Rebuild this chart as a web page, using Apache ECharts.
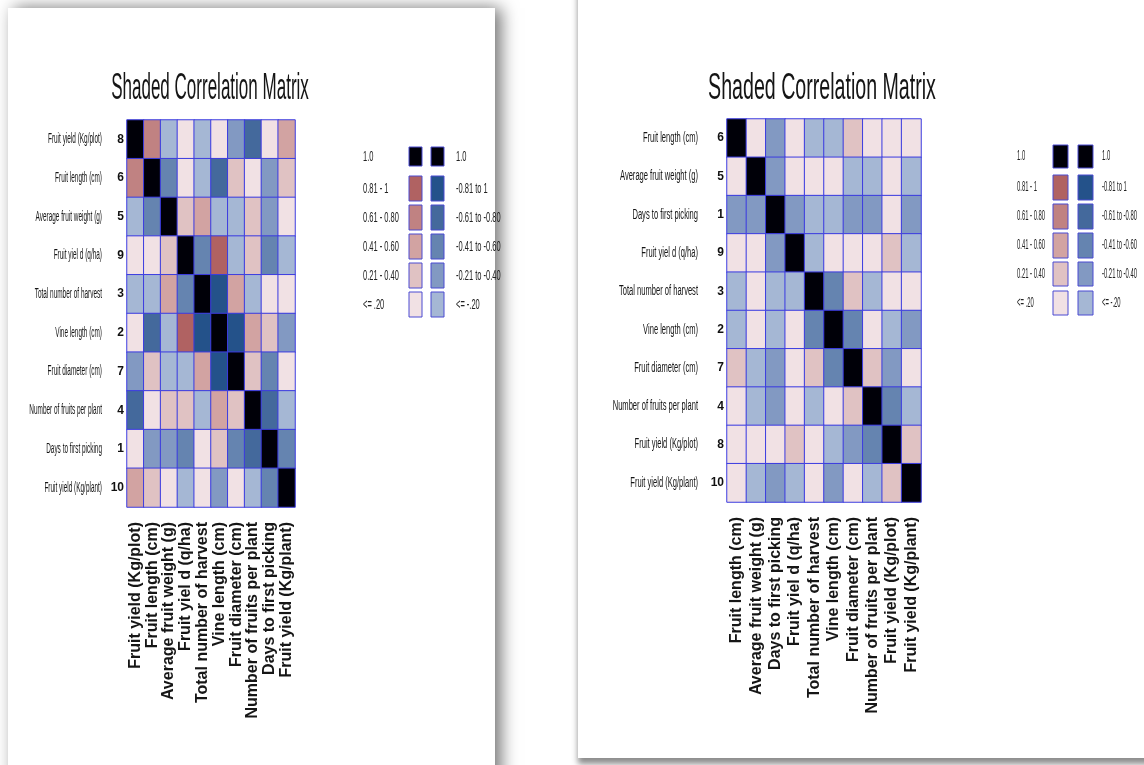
<!DOCTYPE html>
<html>
<head>
<meta charset="utf-8">
<script src="https://cdn.jsdelivr.net/npm/echarts@6/dist/echarts.min.js"></script>
<style>
  html, body { margin: 0; padding: 0; background: #ffffff; overflow: hidden; }
  #wrap { position: relative; width: 1144px; height: 765px; overflow: hidden; background: #ffffff; }
  .card { position: absolute; background: #ffffff; }
  #cardL { left: 8px; top: 8px; width: 487px; height: 820px; box-shadow: 6px 0px 16px rgba(0,0,0,0.55); }
  #cardR { left: 578px; top: -20px; width: 620px; height: 778px; box-shadow: 0px 6px 6px rgba(0,0,0,0.45); }
  #chart { position: absolute; left: 0; top: 0; width: 1144px; height: 765px; }
</style>
</head>
<body>
<div id="wrap">
  <div class="card" id="cardL"></div>
  <div class="card" id="cardR"></div>
  <div id="chart"></div>
</div>
<script>
// ---------------- DATA ----------------
const titleText = 'Shaded Correlation Matrix';

const leftNames = ['Fruit yield (Kg/plot)', 'Fruit length (cm)', 'Average fruit weight (g)', 'Fruit yiel d (q/ha)',
  'Total number of harvest', 'Vine length (cm)', 'Fruit diameter (cm)', 'Number of fruits per plant',
  'Days to first picking', 'Fruit yield (Kg/plant)'];
const leftNums = ['8', '6', '5', '9', '3', '2', '7', '4', '1', '10'];
const leftMatrix = [
  [1.00, 0.72, -0.15, 0.12, -0.14, 0.10, -0.33, -0.71, 0.11, 0.52],
  [0.72, 1.00, -0.52, 0.13, -0.16, -0.68, 0.31, 0.12, -0.35, 0.29],
  [-0.15, -0.52, 1.00, 0.33, 0.48, -0.17, -0.18, 0.32, -0.34, 0.14],
  [0.12, 0.13, 0.33, 1.00, -0.51, 0.86, -0.15, 0.31, -0.49, -0.13],
  [-0.14, -0.16, 0.48, -0.51, 1.00, -0.87, 0.46, -0.12, 0.10, 0.11],
  [0.10, -0.68, -0.17, 0.86, -0.87, 1.00, -0.85, 0.45, 0.30, -0.36],
  [-0.33, 0.31, -0.18, -0.15, 0.46, -0.85, 1.00, 0.28, -0.53, 0.09],
  [-0.71, 0.12, 0.32, 0.31, -0.12, 0.45, 0.28, 1.00, -0.66, -0.16],
  [0.11, -0.35, -0.34, -0.49, 0.10, 0.30, -0.53, -0.66, 1.00, -0.55],
  [0.52, 0.29, 0.14, -0.13, 0.11, -0.36, 0.09, -0.16, -0.55, 1.00]
];

const rightNames = ['Fruit length (cm)', 'Average fruit weight (g)', 'Days to first picking', 'Fruit yiel d (q/ha)',
  'Total number of harvest', 'Vine length (cm)', 'Fruit diameter (cm)', 'Number of fruits per plant',
  'Fruit yield (Kg/plot)', 'Fruit yield (Kg/plant)'];
const rightNums = ['6', '5', '1', '9', '3', '2', '7', '4', '8', '10'];
const rightMatrix = [
  [1.00, 0.12, -0.33, 0.10, -0.15, -0.14, 0.27, 0.11, 0.13, 0.10],
  [0.12, 1.00, -0.31, 0.11, 0.09, 0.12, -0.16, -0.13, 0.10, -0.17],
  [-0.33, -0.31, 1.00, -0.30, -0.17, -0.15, -0.32, -0.34, 0.11, -0.35],
  [0.10, 0.11, -0.30, 1.00, -0.14, 0.12, 0.13, 0.09, 0.28, -0.16],
  [-0.15, 0.09, -0.17, -0.14, 1.00, -0.47, 0.29, -0.15, 0.12, 0.10],
  [-0.14, 0.12, -0.15, 0.12, -0.47, 1.00, -0.45, 0.11, -0.18, -0.32],
  [0.27, -0.16, -0.32, 0.13, 0.29, -0.45, 1.00, 0.30, -0.33, 0.12],
  [0.11, -0.13, -0.34, 0.09, -0.15, 0.11, 0.30, 1.00, -0.46, -0.14],
  [0.13, 0.10, 0.11, 0.28, 0.12, -0.18, -0.33, -0.46, 1.00, 0.31],
  [0.10, -0.17, -0.35, -0.16, 0.10, -0.32, 0.12, -0.14, 0.31, 1.00]
];

// legend (top to bottom)
const posLegendLabels = ['1.0', '0.81 - 1', '0.61 - 0.80', '0.41 - 0.60', '0.21 - 0.40', '<= .20'];
const negLegendLabels = ['1.0', '-0.81 to 1', '-0.61 to -0.80', '-0.41 to -0.60', '-0.21 to -0.40', '<= -.20'];
const posColors = ['#000008', '#b06262', '#c08282', '#d2a3a2', '#e0c2c3', '#f1e1e4'];
const negColors = ['#000008', '#24528a', '#44699c', '#6584b0', '#8299c2', '#a5b7d4'];

// ---------------- HELPERS ----------------
const FONT = "'Liberation Sans', Arial, sans-serif";
const NARROW = "'Liberation Sans Narrow', 'Liberation Sans', Arial, sans-serif";

function toHeat(m) {
  const out = [];
  for (let i = 0; i < m.length; i++)
    for (let j = 0; j < m[i].length; j++) out.push([j, i, m[i][j]]);
  return out;
}

function nameLabelSeries(idx, names, gap, sx, fs) {
  return {
    type: 'custom',
    xAxisIndex: idx, yAxisIndex: idx,
    silent: true, clip: false, z: 5,
    data: names.map((n, i) => [0, i]),
    renderItem: function (params, api) {
      const c = api.coord([0, api.value(1)]);
      const half = api.size([1, 0])[0] / 2;
      return {
        type: 'text',
        x: c[0] - half - gap,
        y: c[1],
        scaleX: sx,
        style: {
          text: names[params.dataIndex],
          align: 'right', textAlign: 'right',
          verticalAlign: 'middle', textVerticalAlign: 'middle',
          fontSize: fs, fontFamily: FONT, fill: '#151515'
        }
      };
    }
  };
}

function legendEls(cfg) {
  const els = [];
  for (let i = 0; i < posLegendLabels.length; i++) {
    const t = cfg.tops[i], h = cfg.heights[i];
    els.push({ type: 'rect', shape: { x: cfg.px, y: t, width: cfg.w, height: h },
      style: { fill: posColors[i], stroke: '#4a4ad2', lineWidth: 1 } });
    els.push({ type: 'rect', shape: { x: cfg.nx, y: t, width: cfg.w, height: h },
      style: { fill: negColors[i], stroke: '#4a4ad2', lineWidth: 1 } });
    els.push({ type: 'text', x: cfg.ptx, y: t + h / 2, scaleX: cfg.sx,
      style: { text: posLegendLabels[i], align: 'left', textAlign: 'left', verticalAlign: 'middle', textVerticalAlign: 'middle',
        fontSize: cfg.fs, fontFamily: FONT, fill: '#222' } });
    els.push({ type: 'text', x: cfg.ntx, y: t + h / 2, scaleX: cfg.sx,
      style: { text: negLegendLabels[i], align: 'left', textAlign: 'left', verticalAlign: 'middle', textVerticalAlign: 'middle',
        fontSize: cfg.fs, fontFamily: FONT, fill: '#222' } });
  }
  return els;
}

function axisPair(idx, names, nums, labelSize) {
  return {
    x: {
      type: 'category', gridIndex: idx, data: names, position: 'bottom',
      axisLine: { show: false }, axisTick: { show: false }, splitLine: { show: false },
      axisLabel: { interval: 0, rotate: 90, margin: 15, fontSize: labelSize, fontWeight: 'bold', fontFamily: FONT, color: '#161616' }
    },
    y: {
      type: 'category', gridIndex: idx, data: names, inverse: true,
      axisLine: { show: false }, axisTick: { show: false }, splitLine: { show: false },
      axisLabel: { interval: 0, margin: 3, fontSize: 12, fontWeight: 'bold', fontFamily: NARROW, color: '#111',
        formatter: function (v, i) { return nums[i]; } }
    }
  };
}

// ---------------- CHART ----------------
const chart = echarts.init(document.getElementById('chart'), null, { renderer: 'canvas' });
const aL = axisPair(0, leftNames, leftNums, 16);
const aR = axisPair(1, rightNames, rightNums, 16);

const pieces = [
  { value: 1, color: posColors[0] },
  { gt: 0.8, lt: 1, color: posColors[1] },
  { gt: 0.6, lte: 0.8, color: posColors[2] },
  { gt: 0.4, lte: 0.6, color: posColors[3] },
  { gt: 0.2, lte: 0.4, color: posColors[4] },
  { gte: 0, lte: 0.2, color: posColors[5] },
  { gte: -0.2, lt: 0, color: negColors[5] },
  { gte: -0.4, lt: -0.2, color: negColors[4] },
  { gte: -0.6, lt: -0.4, color: negColors[3] },
  { gte: -0.8, lt: -0.6, color: negColors[2] },
  { gte: -1, lt: -0.8, color: negColors[1] }
];

const option = {
  backgroundColor: 'transparent',
  animation: false,
  grid: [
    { left: 127, top: 120, width: 168, height: 387, outerBoundsMode: 'none', containLabel: false },
    { left: 727, top: 119, width: 194, height: 383, outerBoundsMode: 'none', containLabel: false }
  ],
  xAxis: [aL.x, aR.x],
  yAxis: [aL.y, aR.y],
  visualMap: {
    type: 'piecewise', show: false, dimension: 2, seriesIndex: [0, 1], pieces: pieces
  },
  series: [
    { type: 'heatmap', xAxisIndex: 0, yAxisIndex: 0, data: toHeat(leftMatrix),
      itemStyle: { borderColor: '#3c3ce0', borderWidth: 1 }, emphasis: { disabled: true } },
    { type: 'heatmap', xAxisIndex: 1, yAxisIndex: 1, data: toHeat(rightMatrix),
      itemStyle: { borderColor: '#3c3ce0', borderWidth: 1 }, emphasis: { disabled: true } },
    nameLabelSeries(0, leftNames, 25, 0.46, 14),
    nameLabelSeries(1, rightNames, 29, 0.54, 14)
  ],
  graphic: [].concat(
    [
      { type: 'text', x: 210, y: 89, scaleX: 0.46, z: 10,
        style: { text: titleText, align: 'center', textAlign: 'center', verticalAlign: 'middle', textVerticalAlign: 'middle',
          fontSize: 37, fontFamily: FONT, fill: '#151515' } },
      { type: 'text', x: 822, y: 89, scaleX: 0.53, z: 10,
        style: { text: titleText, align: 'center', textAlign: 'center', verticalAlign: 'middle', textVerticalAlign: 'middle',
          fontSize: 37, fontFamily: FONT, fill: '#151515' } }
    ],
    legendEls({ px: 409, nx: 431, w: 13, ptx: 363, ntx: 456, sx: 0.5, fs: 15,
      tops: [147, 176, 205, 234, 263, 292], heights: [19, 25, 25, 25, 25, 25] }),
    legendEls({ px: 1053, nx: 1078, w: 15, ptx: 1017, ntx: 1102, sx: 0.42, fs: 14,
      tops: [145, 175, 204, 233, 262, 291], heights: [23, 25, 25, 25, 24, 24] })
  )
};
chart.setOption(option);
</script>
</body>
</html>
